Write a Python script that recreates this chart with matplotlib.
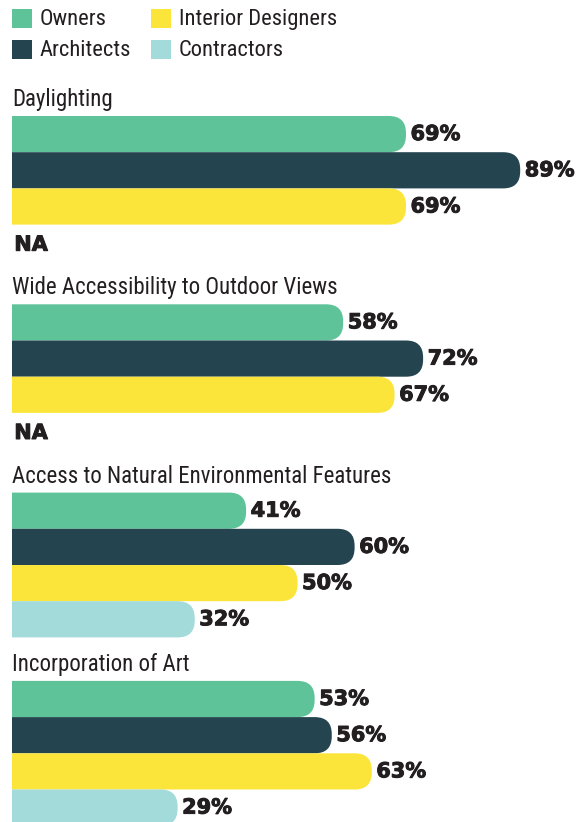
import matplotlib
matplotlib.use("Agg")
import matplotlib.pyplot as plt
import matplotlib.patheffects as pe
from matplotlib.patches import FancyBboxPatch, Rectangle
import numpy as np

# data
groups = ["Daylighting", "Wide Accessibility to Outdoor Views",
          "Access to Natural Environmental Features", "Incorporation of Art"]
series = ["Owners", "Architects", "Interior Designers", "Contractors"]
owners = [69, 58, 41, 53]
architects = [89, 72, 60, 56]
interior = [69, 67, 50, 63]
contractors = [None, None, 32, 29]   # None -> NA

colors = ["#5fc39a", "#244450", "#fbe53b", "#a3dada"]
txt = "#231f20"

values = [owners, architects, interior, contractors]

W, H = 580, 822
fig = plt.figure(figsize=(W / 100, H / 100), dpi=100)
ax = fig.add_axes([0, 0, 1, 1])
px = 5.71          # pixels per percent
x0 = 12            # left edge of bars in px
ax.set_xlim(-x0 / px, (W - x0) / px)
ax.set_ylim(H, 0)
ax.axis("off")

title_font = ["Roboto Condensed", "DejaVu Sans"]
lab_font = ["DejaVu Sans"]
fat = [pe.withStroke(linewidth=0.7, foreground=txt)]
first_top = 116
group_gap = 188.3
bar_h = 36.2
rad = 17  # px

clip = Rectangle((0, 0), 200, H, transform=ax.transData)

for g, name in enumerate(groups):
    top = first_top + g * group_gap
    ax.text(0, top - 10, name, fontsize=16.5, color=txt, family=title_font,
            va="baseline", ha="left")
    for s in range(len(series)):
        v = values[s][g]
        y = top + s * bar_h
        yc = y + bar_h / 2
        if v is None:
            ax.text(0.4, yc + 2, "NA", fontsize=15, fontweight="bold",
                    family=lab_font, color=txt, va="center", ha="left",
                    path_effects=fat)
            continue
        r = rad / px
        p = FancyBboxPatch((-10, y), v + 10, bar_h,
                           boxstyle="round,pad=0,rounding_size=%f" % r,
                           mutation_aspect=px, fc=colors[s], ec="none")
        ax.add_patch(p)
        p.set_clip_path(clip)
        ax.text(v + 0.8, yc, "%d%%" % v, fontsize=15, fontweight="bold",
                family=lab_font, color=txt, va="center", ha="left",
                path_effects=fat)

# legend
leg_pos = [(12, 9), (12, 40), (151, 9), (151, 40)]
for s, (lx, ly) in enumerate(leg_pos):
    fig.patches.append(Rectangle((lx / W, 1 - (ly + 19) / H), 20 / W, 19 / H,
                                 transform=fig.transFigure, fc=colors[s], ec="none"))
    fig.text((lx + 28) / W, 1 - (ly + 10.5) / H, series[s], fontsize=16.2,
             color=txt, family=title_font, va="center", ha="left")

fig.savefig("out.png", dpi=100)
